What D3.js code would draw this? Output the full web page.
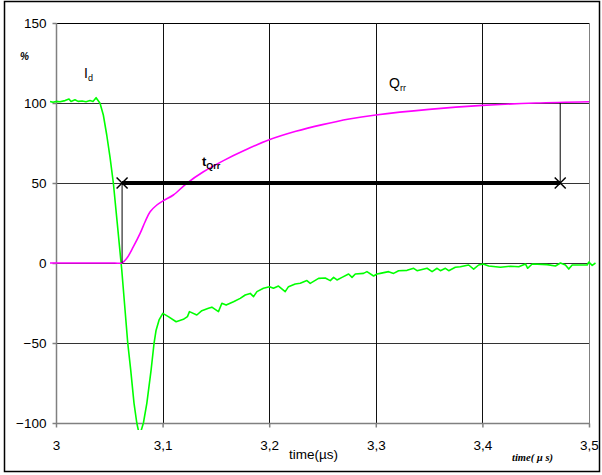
<!DOCTYPE html>
<html>
<head>
<meta charset="utf-8">
<script src="https://cdn.jsdelivr.net/npm/d3@7"></script>
<style>
  html, body { margin: 0; padding: 0; background: #fff; }
  svg { display: block; font-family: Arial, "Liberation Sans", sans-serif; }
</style>
</head>
<body>
<svg id="chart" width="602" height="475"></svg>
<script>
// Time axis (µs) and percentage axis ticks
const xTicks = [3.0, 3.1, 3.2, 3.3, 3.4, 3.5];
const yTicks = [-100, -50, 0, 50, 100, 150];

// Diode current Id (%) versus time (µs)
const idTime = [2.9944, 2.9972, 3.0, 3.0038, 3.0085, 3.0122, 3.0141, 3.0178, 3.0207, 3.0244,
  3.0282, 3.0319, 3.0347, 3.0376, 3.0413, 3.0444, 3.0476, 3.0507, 3.0538, 3.0573,
  3.0617, 3.0673, 3.0701, 3.0732, 3.0758, 3.0784, 3.0820, 3.0852, 3.0892, 3.0920,
  3.0939, 3.0967, 3.1002, 3.1054, 3.1127, 3.1195, 3.1233, 3.1252, 3.1321, 3.1368,
  3.1430, 3.1462, 3.1493, 3.1524, 3.1556, 3.1596, 3.1665, 3.1728, 3.1775, 3.1822,
  3.1853, 3.1885, 3.1946, 3.2003, 3.2040, 3.2087, 3.2150, 3.2181, 3.2244, 3.2291,
  3.2354, 3.2385, 3.2463, 3.2526, 3.2573, 3.2604, 3.2636, 3.2683, 3.2745, 3.2777,
  3.2808, 3.2885, 3.2917, 3.2979, 3.3011, 3.3042, 3.3120, 3.3167, 3.3214, 3.3293,
  3.3355, 3.3387, 3.3481, 3.3528, 3.3575, 3.3606, 3.3653, 3.3684, 3.3746, 3.3793,
  3.3871, 3.3918, 3.3965, 3.4007, 3.4059, 3.4169, 3.4263, 3.4341, 3.4404, 3.4425,
  3.4467, 3.4607, 3.4685, 3.4732, 3.4779, 3.4810, 3.4842, 3.4983, 3.4998, 3.5030, 3.5061];
const idValue = [101, 100.5, 101, 100.8, 101.5, 102.5, 101, 102, 101, 101.3,
  100.8, 101.5, 101, 103.3, 99.8, 92.5, 80, 66, 50, 26,
  -4.4, -50, -67, -87.7, -100, -108, -100, -87.7, -67, -50,
  -42, -35.6, -31.5, -33.5, -36.7, -35.2, -33.5, -30.4, -32.5, -29.8,
  -28.3, -27.6, -29, -30.4, -25.2, -26.3, -24.2, -22.1, -20, -19,
  -21, -17.9, -15.8, -14.8, -15.8, -14.4, -17.9, -14.8, -13.1, -12.7,
  -11, -12.7, -9.6, -9.4, -11, -9, -10.6, -9, -6.9, -9,
  -6.9, -6.5, -5.4, -8.1, -6.9, -6.5, -5.4, -6.5, -4.8, -4.6,
  -3.3, -4.8, -3.3, -5.4, -3.3, -4.8, -3.3, -4.8, -2.7, -2.3,
  -1.25, -3.8, -1.25, -0.6, -1.9, -2.7, -2.0, -2.3, -0.6, -3.3,
  -0.6, -1, -1.9, 0, -1.25, -3.8, -1.25, -1.25, 0.6, -1.5, 0];

// Recovered charge Qrr (%) versus time (µs)
const qrrTime = [2.9944, 3.03, 3.055, 3.0617, 3.0664, 3.0726, 3.0789, 3.0836, 3.0883, 3.0946, 3.1008,
  3.1101, 3.1227, 3.1383, 3.1571, 3.1775, 3.2, 3.225, 3.25, 3.275, 3.3, 3.35, 3.4, 3.45, 3.5];
const qrrValue = [0, 0, 0, 0, 2.9, 10.2, 18.5, 25.8, 32, 36.25, 39,
  42.5, 49.8, 57, 64, 70.6, 77, 82.3, 86.5, 90, 92.5, 96, 98.5, 100, 100.8];

// tQrr interval: from Qrr onset to 100 % charge, drawn at the 50 % level
const tqrrStart = 3.062;
const tqrrEnd = 3.473;
const tqrrLevel = 50;
const tqrrTop = 100;
const tqrrBottom = 0;

const svg = d3.select("#chart");
const plotLeft = 56, plotRight = 589, plotTop = 23, plotBottom = 423;

const x = d3.scaleLinear().domain([3.0, 3.5]).range([plotLeft, plotRight]);
const y = d3.scaleLinear().domain([-100, 150]).range([plotBottom, plotTop]);
const fmt = d => d3.format(".1f")(d).replace(".0", "").replace(".", ",");

// outer frame
svg.append("rect")
  .attr("x", 4.5).attr("y", 1.5).attr("width", 595).attr("height", 470)
  .attr("fill", "none").attr("stroke", "#000").attr("stroke-width", 1.5);

// grid
const grid = svg.append("g");
grid.selectAll("line.h").data(yTicks.filter(v => v > -100)).join("line")
  .attr("x1", plotLeft).attr("x2", plotRight)
  .attr("y1", d => Math.round(y(d)) + 0.5).attr("y2", d => Math.round(y(d)) + 0.5)
  .attr("stroke", d => d === 150 ? "#000" : "#333").attr("stroke-width", 1);
grid.selectAll("line.v").data(xTicks.filter(t => t > 3.0 && t < 3.5)).join("line")
  .attr("x1", d => Math.round(x(d)) + 0.5).attr("x2", d => Math.round(x(d)) + 0.5)
  .attr("y1", plotTop).attr("y2", plotBottom)
  .attr("stroke", "#111").attr("stroke-width", 1);
grid.append("line")
  .attr("x1", Math.round(x(3.5)) + 0.5).attr("x2", Math.round(x(3.5)) + 0.5)
  .attr("y1", plotTop).attr("y2", plotBottom + 4)
  .attr("stroke", "#808080").attr("stroke-width", 1);

// axes
const yAxis = svg.append("g")
  .attr("transform", `translate(${plotLeft + 0.5},0)`)
  .call(d3.axisLeft(y).tickValues(yTicks).tickSize(4).tickPadding(6).tickFormat(d3.format("d")));
const xAxis = svg.append("g")
  .attr("transform", `translate(0,${plotBottom + 0.5})`)
  .call(d3.axisBottom(x).tickValues(xTicks).tickSize(4).tickPadding(13).tickFormat(fmt));
[yAxis, xAxis].forEach(a => {
  a.select(".domain").attr("stroke", "#808080").attr("stroke-width", 1.5);
  a.selectAll(".tick line").attr("stroke", "#808080").attr("stroke-width", 1.5);
  a.selectAll(".tick text").attr("fill", "#000")
    .style("font-family", "Arial, 'Liberation Sans', sans-serif").style("font-size", "13.5px");
});
yAxis.select(".domain").attr("d", `M0,${plotTop}V${plotBottom}`);
xAxis.select(".domain").attr("d", `M${plotLeft},0H${plotRight}`);

// plot clip (the current trace leaves the bottom of the frame)
svg.append("clipPath").attr("id", "plotclip")
  .append("rect").attr("x", 40).attr("y", plotTop).attr("width", 560).attr("height", 430 - plotTop);

const plot = svg.append("g").attr("clip-path", "url(#plotclip)");

const idLine = d3.line()
  .x((d, i) => x(idTime[i])).y(d => y(d))
  .curve(d3.curveLinear);
plot.append("path").attr("d", idLine(idValue))
  .attr("fill", "none").attr("stroke", "#00ff00").attr("stroke-width", 1.6)
  .attr("stroke-linejoin", "round");

const qrrLine = d3.line()
  .x((d, i) => x(qrrTime[i])).y(d => y(d))
  .curve(d3.curveCatmullRom.alpha(0.5));
plot.append("path").attr("d", qrrLine(qrrValue))
  .attr("fill", "none").attr("stroke", "#ff00ff").attr("stroke-width", 1.6);

// tQrr marker lines
const mk = svg.append("g");
mk.append("line")
  .attr("x1", x(tqrrStart)).attr("x2", x(tqrrStart))
  .attr("y1", y(tqrrBottom)).attr("y2", y(tqrrLevel))
  .attr("stroke", "#000").attr("stroke-width", 1);
mk.append("line")
  .attr("x1", x(tqrrEnd)).attr("x2", x(tqrrEnd))
  .attr("y1", y(tqrrTop)).attr("y2", y(tqrrLevel))
  .attr("stroke", "#000").attr("stroke-width", 1);
mk.append("line")
  .attr("x1", x(tqrrStart)).attr("x2", x(tqrrEnd))
  .attr("y1", y(tqrrLevel)).attr("y2", y(tqrrLevel))
  .attr("stroke", "#000").attr("stroke-width", 4);
[tqrrStart, tqrrEnd].forEach(t => {
  const cx = x(t), cy = y(tqrrLevel), r = 5.5;
  mk.append("path")
    .attr("d", `M${cx - r},${cy - r}L${cx + r},${cy + r}M${cx - r},${cy + r}L${cx + r},${cy - r}`)
    .attr("stroke", "#000").attr("stroke-width", 1.5).attr("fill", "none");
});

// labels
const lbl = svg.append("g").attr("fill", "#000");
lbl.append("text").attr("x", 20).attr("y", 60)
  .style("font-size", "10px").style("font-style", "italic").style("font-weight", "bold").text("%");

const idT = lbl.append("text").attr("x", 84).attr("y", 78).style("font-size", "14px");
idT.append("tspan").text("I");
idT.append("tspan").attr("dy", 3).style("font-size", "9px").text("d");

const qT = lbl.append("text").attr("x", 389).attr("y", 88).style("font-size", "14px");
qT.append("tspan").text("Q");
qT.append("tspan").attr("dy", 3).style("font-size", "9px").text("rr");

const tT = lbl.append("text").attr("x", 202).attr("y", 166)
  .style("font-size", "13px").style("font-weight", "bold");
tT.append("tspan").text("t");
tT.append("tspan").attr("dy", 3).style("font-size", "9px").text("Qrr");

lbl.append("text").attr("x", 289).attr("y", 459).style("font-size", "13.5px").text("time(µs)");
lbl.append("text").attr("x", 512).attr("y", 461)
  .style("font-family", "'Liberation Serif', 'DejaVu Serif', serif")
  .style("font-size", "10.5px").style("font-style", "italic").style("font-weight", "bold")
  .text("time( µ s)");
</script>
</body>
</html>
